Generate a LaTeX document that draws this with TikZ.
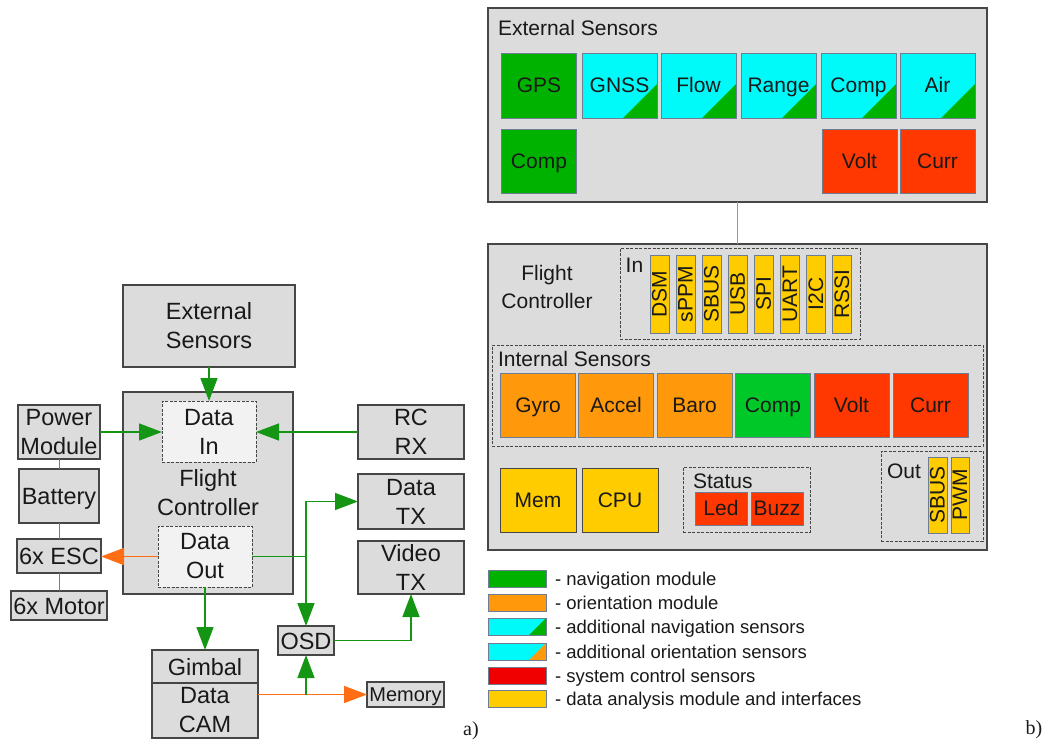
\documentclass[tikz,border=0pt]{standalone}
\usepackage{fontspec}
\setmainfont{Liberation Sans}
\newfontfamily\labfont{Liberation Serif}
\usetikzlibrary{arrows.meta}
\definecolor{boxgray}{RGB}{220,220,220}
\definecolor{innergray}{RGB}{242,242,242}
\definecolor{edge}{RGB}{70,70,70}
\definecolor{sedge}{RGB}{110,125,145}
\definecolor{txt}{RGB}{25,25,25}
\definecolor{flowgreen}{RGB}{20,150,20}
\definecolor{floworange}{RGB}{255,110,20}
\definecolor{pinkline}{RGB}{190,90,120}
\definecolor{connblue}{RGB}{140,154,180}
\definecolor{navg}{RGB}{0,178,0}
\definecolor{navg2}{RGB}{0,200,40}
\definecolor{cyan2}{RGB}{0,250,250}
\definecolor{orng}{RGB}{255,152,10}
\definecolor{redbox}{RGB}{255,55,0}
\definecolor{legred}{RGB}{240,0,0}
\definecolor{yell}{RGB}{255,204,0}
\begin{document}
\begin{tikzpicture}[x=1pt,y=-1pt,
  every node/.style={inner sep=0pt, outer sep=0pt, text=txt},
  sz/.style 2 args={minimum width=#1pt, minimum height=#2pt},
  lfont/.style={font=\fontsize{23.5}{29}\selectfont},
  rfont/.style={font=\fontsize{21}{27}\selectfont},
  box/.style={draw=edge, line width=1.3pt, fill=boxgray, align=center, lfont},
  sbox/.style={box, text height=17pt, text depth=0pt},
  dbox/.style={draw=edge, line width=0.9pt, dash pattern=on 3pt off 1.5pt, fill=innergray, align=center, lfont},
  rdbox/.style={draw=edge, line width=0.9pt, dash pattern=on 3pt off 1.5pt},
  sens/.style={draw=sedge, line width=0.8pt, align=center, rfont, text height=14pt, text depth=0pt},
  addnav/.style={path picture={\fill[navg] (path picture bounding box.south east) -- ++(-34,0) -- ++(34,-34) -- cycle;}},
  legnav/.style={path picture={\fill[navg] (path picture bounding box.south east) -- ++(-17,0) -- ++(17,-17) -- cycle;}},
  legori/.style={path picture={\fill[orng] (path picture bounding box.south east) -- ++(-17,0) -- ++(17,-17) -- cycle;}},
  garrow/.style={draw=flowgreen, line width=1.5pt, -{Triangle[length=23pt,width=17pt]}},
  gline/.style={draw=flowgreen, line width=1.5pt},
  oarrow/.style={draw=floworange, line width=1.5pt, -{Triangle[length=23pt,width=17pt]}},
  pline/.style={draw=pinkline, line width=1pt},
  conn/.style={draw=connblue, line width=1.3pt},
  legsw/.style={draw=sedge, line width=0.8pt, minimum width=58pt, minimum height=17pt},
  legtext/.style={anchor=west, font=\fontsize{18.5}{22}\selectfont, text height=13pt, text depth=0pt}
]
\useasboundingbox (0,0) rectangle (1045,742);

% ---------------- a) ----------------
\node[box,sz={172}{82}] (extS) at (209,326) {External\\Sensors};
\node[box,sz={170}{202}] (fc) at (208,493) {Flight\\Controller};
\node[dbox,sz={94}{61}] (din) at (209,431.5) {Data\\In};
\node[dbox,sz={94}{61}] (dout) at (205,556.5) {Data\\Out};
\node[box,sz={82}{54}] (pwr) at (59,432) {Power\\Module};
\node[sbox,sz={80}{54}] (bat) at (59,496) {Battery};
\node[sbox,sz={84}{34}] (esc) at (59,556) {6x ESC};
\node[sbox,sz={96}{29}] (mot) at (59,605.5) {6x Motor};
\node[box,sz={106}{54}] (rc) at (411,432) {RC\\RX};
\node[box,sz={106}{55}] (dtx) at (411,501.5) {Data\\TX};
\node[box,sz={106}{53}] (vtx) at (411,567.5) {Video\\TX};
\node[sbox,sz={56}{29}] (osd) at (306,640.5) {OSD};
\node[sbox,sz={106}{33}] (gimbal) at (205,666.5) {Gimbal};
\node[box,sz={106}{55}] (cam) at (205,710.5) {Data\\CAM};
\node[box,sz={77}{25},font=\fontsize{20}{24}\selectfont, text height=14.5pt, text depth=0pt] (mem) at (405.5,694.5) {Memory};

\draw[garrow] (extS.south) -- (din.north);
\draw[garrow] (pwr.east) -- (pwr.east -| din.west);
\draw[garrow] (rc.west) -- (rc.west -| din.east);
\draw[oarrow] (dout.west) -- (dout.west -| esc.east);
\draw[garrow] (dout.south) -- (dout.south |- gimbal.north);
\coordinate (j1) at (dout.east -| osd.north);
\draw[gline] (dout.east) -- (j1);
\draw[garrow] (j1) -- (osd.north);
\draw[garrow] (j1) |- (dtx.west);
\draw[garrow] (osd.east) -| (vtx.south);
\coordinate (j2) at (mem.west -| osd.south);
\draw[oarrow] (mem.west -| cam.east) -- (mem.west);
\draw[garrow] (j2) -- (osd.south);
\draw[pline] (pwr.south) -- (bat.north);
\draw[pline] (bat.south) -- (esc.north);
\draw[pline] (esc.south) -- (mot.north);

\node[font=\labfont\fontsize{20}{24}\selectfont] (la) at (471,731) {a)};

% ---------------- b) ----------------
\node[box,sz={499}{194}] (rext) at (737.5,105) {};
\node[anchor=west, rfont] (rextT) at (498,28) {External Sensors};
\node[sens, sz={75}{65}, fill=navg] (gps) at (539,85.5) {GPS};
\node[sens, sz={75}{65}, fill=cyan2, addnav] (gnss) at (619.5,85.5) {GNSS};
\node[sens, sz={75}{65}, fill=cyan2, addnav] (flow) at (698.5,85.5) {Flow};
\node[sens, sz={75}{65}, fill=cyan2, addnav] (range) at (778.5,85.5) {Range};
\node[sens, sz={75}{65}, fill=cyan2, addnav] (ecomp) at (858.5,85.5) {Comp};
\node[sens, sz={75}{65}, fill=cyan2, addnav] (air) at (937.5,85.5) {Air};
\node[sens, sz={75}{64}, fill=navg] (ecomp2) at (539,161) {Comp};
\node[sens, sz={75}{64}, fill=redbox] (evolt) at (859.5,161) {Volt};
\node[sens, sz={75}{64}, fill=redbox] (ecurr) at (937.5,161) {Curr};

\node[box,sz={499}{306}] (rfc) at (737.5,397) {};
\draw[conn] (rext.south) -- (rfc.north);
\node[align=center, font=\fontsize{21}{28}\selectfont] (rfcT) at (547,287) {Flight\\Controller};

\node[rdbox, sz={240}{91}] (inbox) at (740,293.5) {};
\node[rfont] (inT) at (634.5,265) {In};
\foreach \t [count=\i from 0] in {DSM,sPPM,SBUS,USB,SPI,UART,I2C,RSSI}
  \node[sens, fill=yell, rotate=90, sz={78}{19}] (in\i) at ({659.5+26.1*\i},294) {\t};

\node[rdbox, sz={491}{101}] (intbox) at (737.5,395.5) {};
\node[anchor=west, rfont] (intT) at (498,359) {Internal Sensors};
\node[sens, sz={75}{64}, fill=orng] (gyro) at (538,405) {Gyro};
\node[sens, sz={75}{64}, fill=orng] (accel) at (616,405) {Accel};
\node[sens, sz={75}{64}, fill=orng] (baro) at (694.5,405) {Baro};
\node[sens, sz={75}{64}, fill=navg2] (icomp) at (773,405) {Comp};
\node[sens, sz={75}{64}, fill=redbox] (ivolt) at (851.5,405) {Volt};
\node[sens, sz={75}{64}, fill=redbox] (icurr) at (930.5,405) {Curr};

\node[sens, sz={76}{64}, fill=yell, draw=edge] (memb) at (538,500) {Mem};
\node[sens, sz={76}{64}, fill=yell, draw=edge] (cpu) at (620,500) {CPU};

\node[rdbox, sz={127}{65}] (stbox) at (746.5,499.5) {};
\node[anchor=west, rfont] (stT) at (693,481) {Status};
\node[sens, sz={52}{33}, fill=redbox] (led) at (721,508.5) {Led};
\node[sens, sz={52}{33}, fill=redbox] (buzz) at (777,508.5) {Buzz};

\node[rdbox, sz={102}{90}] (outbox) at (932,496) {};
\node[anchor=west, rfont] (outT) at (887,471) {Out};
\node[sens, fill=yell, rotate=90, sz={76}{19}] (osbus) at (937.5,495) {SBUS};
\node[sens, fill=yell, rotate=90, sz={76}{18}] (opwm) at (960,495) {PWM};

% legend
\node[legsw, fill=navg] (lg1) at (517,578.5) {};
\node[legtext] (lt1) at (555,578.5) {- navigation module};
\node[legsw, fill=orng] (lg2) at (517,603) {};
\node[legtext] (lt2) at (555,603) {- orientation module};
\node[legsw, fill=cyan2, legnav] (lg3) at (517,626.5) {};
\node[legtext] (lt3) at (555,626.5) {- additional navigation sensors};
\node[legsw, fill=cyan2, legori] (lg4) at (517,651.5) {};
\node[legtext] (lt4) at (555,651.5) {- additional orientation sensors};
\node[legsw, fill=legred] (lg5) at (517,675.5) {};
\node[legtext] (lt5) at (555,675.5) {- system control sensors};
\node[legsw, fill=yell] (lg6) at (517,698.5) {};
\node[legtext] (lt6) at (555,698.5) {- data analysis module and interfaces};

\node[font=\labfont\fontsize{20}{24}\selectfont] (lb) at (1034,730) {b)};
\end{tikzpicture}
\end{document}
